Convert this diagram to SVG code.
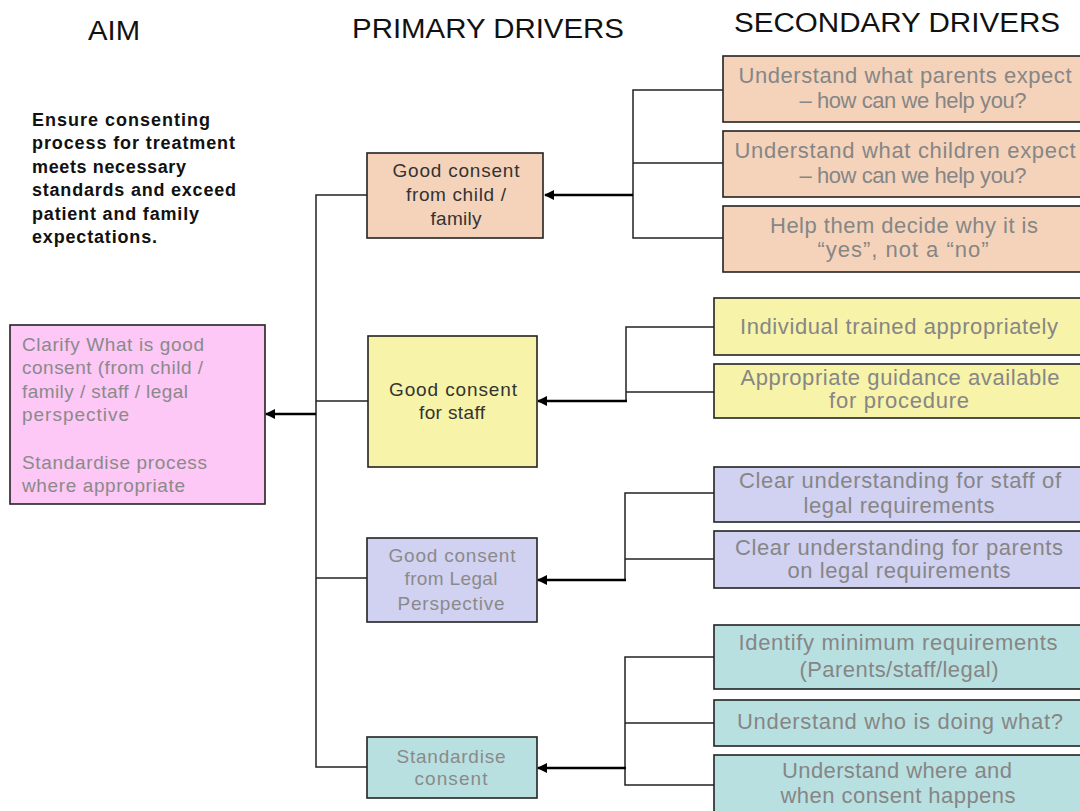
<svg xmlns="http://www.w3.org/2000/svg" width="1080" height="811" viewBox="0 0 1080 811">
<defs>
<style>
.hdr{font-family:"Liberation Sans",Arial,sans-serif;font-size:27px;fill:#111}
.aim{font-family:"Liberation Sans",Arial,sans-serif;font-size:18px;font-weight:bold;fill:#111}
.box{stroke:#222;stroke-width:1.6}
.t{font-family:"Liberation Sans",Arial,sans-serif;font-size:19px;text-anchor:middle}
.s{font-family:"Liberation Sans",Arial,sans-serif;font-size:22px;text-anchor:middle;fill:#868686}
.dark{fill:#333}
.gray{fill:#8a8a8a}
.pk{fill:#FDC7F6}
.pe{fill:#F4D3BA}
.ye{fill:#F7F3A8}
.la{fill:#D1D1F1}
.cy{fill:#B9E0E1}
.ln{fill:none;stroke:#222;stroke-width:1.5}
.ar{fill:none;stroke:#000;stroke-width:2.5;marker-end:url(#ah)}
</style>
<marker id="ah" viewBox="0 0 10 10" refX="9" refY="5" markerWidth="4" markerHeight="4" orient="auto" markerUnits="strokeWidth">
<path d="M0,0 L10,5 L0,10 z" fill="#000"/>
</marker>
</defs>
<rect width="1080" height="811" fill="#fff"/>

<g id="headers">
<text class="hdr" x="88" y="40" textLength="52" lengthAdjust="spacingAndGlyphs">AIM</text>
<text class="hdr" x="352" y="38" textLength="272" lengthAdjust="spacingAndGlyphs">PRIMARY DRIVERS</text>
<text class="hdr" x="734" y="32" textLength="326" lengthAdjust="spacingAndGlyphs">SECONDARY DRIVERS</text>
</g>

<g id="aim-statement">
<text class="aim" x="32" y="126" textLength="178">Ensure consenting</text>
<text class="aim" x="32" y="149" textLength="203">process for treatment</text>
<text class="aim" x="32" y="173" textLength="154">meets necessary</text>
<text class="aim" x="32" y="196" textLength="204">standards and exceed</text>
<text class="aim" x="32" y="220" textLength="167">patient and family</text>
<text class="aim" x="32" y="243" textLength="125">expectations.</text>
</g>

<g id="connectors">
<polyline class="ln" points="368,195 316,195 316,767 368,767"/>
<line class="ln" x1="316" y1="401" x2="368" y2="401"/>
<line class="ln" x1="316" y1="578" x2="368" y2="578"/>
<line class="ar" x1="316" y1="414" x2="266" y2="414"/>

<polyline class="ln" points="723,90 633,90 633,238 723,238"/>
<line class="ln" x1="633" y1="163" x2="723" y2="163"/>
<line class="ar" x1="633" y1="195" x2="545" y2="195"/>

<polyline class="ln" points="714,327 626,327 626,401"/>
<line class="ln" x1="626" y1="392" x2="714" y2="392"/>
<line class="ar" x1="627" y1="401" x2="538" y2="401"/>

<polyline class="ln" points="714,493 625,493 625,580"/>
<line class="ln" x1="625" y1="559" x2="714" y2="559"/>
<line class="ar" x1="626" y1="580" x2="538" y2="580"/>

<polyline class="ln" points="714,657 625,657 625,785 714,785"/>
<line class="ln" x1="625" y1="723" x2="714" y2="723"/>
<line class="ar" x1="626" y1="768" x2="538" y2="768"/>
</g>

<g id="aim-box">
<rect class="box pk" x="10" y="325" width="255" height="179"/>
<text class="t gray" style="text-anchor:start" x="22" y="351" textLength="182">Clarify What is good</text>
<text class="t gray" style="text-anchor:start" x="22" y="374" textLength="181">consent (from child /</text>
<text class="t gray" style="text-anchor:start" x="22" y="398" textLength="166">family /  staff / legal</text>
<text class="t gray" style="text-anchor:start" x="22" y="421" textLength="107">perspective</text>
<text class="t gray" style="text-anchor:start" x="22" y="469" textLength="185">Standardise process</text>
<text class="t gray" style="text-anchor:start" x="22" y="492" textLength="163">where appropriate</text>
</g>

<g id="primary-1">
<rect class="box pe" x="367" y="153" width="176" height="85"/>
<text class="t dark" x="456" y="177" textLength="127">Good consent</text>
<text class="t dark" x="456" y="201" textLength="100">from child /</text>
<text class="t dark" x="456" y="225" textLength="51">family</text>
</g>

<g id="primary-2">
<rect class="box ye" x="368" y="336" width="169" height="131"/>
<text class="t dark" x="453" y="396" textLength="128">Good consent</text>
<text class="t dark" x="452" y="419" textLength="66">for staff</text>
</g>

<g id="primary-3">
<rect class="box la" x="367" y="538" width="170" height="84"/>
<text class="t gray" x="452" y="562" textLength="127">Good consent</text>
<text class="t gray" x="451" y="585" textLength="93">from Legal</text>
<text class="t gray" x="451" y="610" textLength="107">Perspective</text>
</g>

<g id="primary-4">
<rect class="box cy" x="367" y="737" width="170" height="61"/>
<text class="t gray" x="451" y="763" textLength="109">Standardise</text>
<text class="t gray" x="451" y="785" textLength="73">consent</text>
</g>

<g id="sec-1a">
<rect class="box pe" x="723" y="56" width="370" height="66"/>
<text class="s" x="905" y="83" textLength="333">Understand what parents expect</text>
<text class="s" x="913" y="108" textLength="227">– how can we help you?</text>
</g>
<g id="sec-1b">
<rect class="box pe" x="723" y="131" width="370" height="66"/>
<text class="s" x="905" y="158" textLength="341">Understand what children expect</text>
<text class="s" x="913" y="183" textLength="227">– how can we help you?</text>
</g>
<g id="sec-1c">
<rect class="box pe" x="723" y="206" width="370" height="66"/>
<text class="s" x="904" y="233" textLength="268">Help them decide why it is</text>
<text class="s" x="903" y="257" textLength="171">“yes”, not a “no”</text>
</g>

<g id="sec-2a">
<rect class="box ye" x="714" y="298" width="380" height="57"/>
<text class="s" x="899" y="334" textLength="318">Individual  trained appropriately</text>
</g>
<g id="sec-2b">
<rect class="box ye" x="714" y="364" width="380" height="54"/>
<text class="s" x="900" y="385" textLength="319">Appropriate  guidance  available</text>
<text class="s" x="899" y="408" textLength="140">for procedure</text>
</g>

<g id="sec-3a">
<rect class="box la" x="714" y="467" width="380" height="55"/>
<text class="s" x="900" y="488" textLength="322">Clear understanding for staff of</text>
<text class="s" x="899" y="513" textLength="191">legal requirements</text>
</g>
<g id="sec-3b">
<rect class="box la" x="714" y="531" width="380" height="57"/>
<text class="s" x="899" y="555" textLength="328">Clear understanding for parents</text>
<text class="s" x="899" y="578" textLength="223">on legal requirements</text>
</g>

<g id="sec-4a">
<rect class="box cy" x="714" y="625" width="380" height="64"/>
<text class="s" x="898" y="650" textLength="319">Identify  minimum  requirements</text>
<text class="s" x="899" y="677" textLength="199">(Parents/staff/legal)</text>
</g>
<g id="sec-4b">
<rect class="box cy" x="714" y="700" width="380" height="46"/>
<text class="s" x="900" y="729" textLength="326">Understand who is doing  what?</text>
</g>
<g id="sec-4c">
<rect class="box cy" x="714" y="755" width="380" height="70"/>
<text class="s" x="897" y="778" textLength="230">Understand where and</text>
<text class="s" x="898" y="803" textLength="235">when consent happens</text>
</g>
</svg>
